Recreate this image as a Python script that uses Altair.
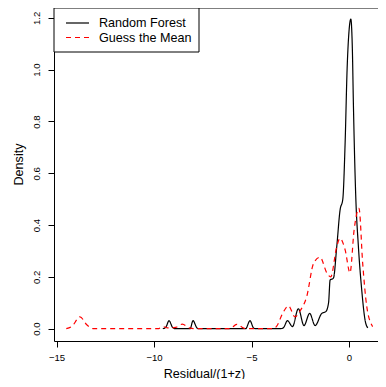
import altair as alt
import pandas as pd

# Random Forest density
rf_x = [-9.55, -9.4, -9.23, -9.05, -8.9, -8.15, -8.0, -7.8, -7.7, -5.3, -5.08, -4.9, -4.8,
        -3.5, -3.35, -3.16, -2.9, -2.6, -2.31, -2.02, -1.74, -1.4, -1.19, -1.05, -0.97,
        -0.8, -0.63, -0.46, -0.32, -0.2, -0.1, 0.0, 0.09, 0.17, 0.22, 0.34, 0.48, 0.65,
        0.82, 0.96]
rf_y = [0.0, 0.005, 0.031, 0.005, 0.0, 0.0, 0.031, 0.003, 0.0, 0.0, 0.031, 0.003, 0.0,
        0.0, 0.005, 0.031, 0.008, 0.077, 0.012, 0.059, 0.012, 0.059, 0.066, 0.1, 0.188,
        0.195, 0.317, 0.458, 0.5, 0.72, 1.0, 1.15, 1.195, 1.08, 0.88, 0.52, 0.317, 0.15,
        0.034, 0.003]

# Guess the Mean density
gm_x = [-14.5, -14.2, -13.8, -13.45, -13.1, -9.8, -9.55, -9.3, -8.9, -8.55, -8.2, -7.9,
        -6.1, -5.76, -5.4, -5.2, -3.9, -3.71, -3.4, -3.11, -2.77, -2.5, -2.17, -1.82,
        -1.49, -1.13, -0.94, -0.63, -0.46, -0.2, 0.05, 0.26, 0.51, 0.7, 0.91, 1.21]
gm_y = [0.0, 0.01, 0.046, 0.015, 0.0, 0.0, 0.008, 0.003, 0.005, 0.018, 0.003, 0.0,
        0.0, 0.017, 0.002, 0.0, 0.0, 0.01, 0.06, 0.088, 0.046, 0.07, 0.124, 0.252,
        0.276, 0.214, 0.2, 0.317, 0.349, 0.304, 0.216, 0.381, 0.465, 0.252, 0.085, 0.008]

series = ["Random Forest", "Guess the Mean"]
x_ticks = [-15, -10, -5, 0]
y_ticks = [0.0, 0.2, 0.4, 0.6, 0.8, 1.0, 1.2]

df = pd.concat([
    pd.DataFrame({"x": rf_x, "y": rf_y, "model": series[0], "order": range(len(rf_x))}),
    pd.DataFrame({"x": gm_x, "y": gm_y, "model": series[1], "order": range(len(gm_x))}),
])

W, H = 324, 333
FONT = "Liberation Sans"

lines = alt.Chart(df).mark_line(interpolate="monotone", strokeWidth=1.2).encode(
    x=alt.X("x:Q", scale=alt.Scale(domain=[-15.13, 1.485], nice=False, zero=False),
            axis=alt.Axis(values=x_ticks, format="d", title="Residual/(1+z)",
                          grid=False, tickSize=6, labelPadding=5,
                          labelFontSize=9.6, titleFontSize=12.6,
                          titleX=150, titleY=36, titleBaseline="alphabetic")),
    y=alt.Y("y:Q", scale=alt.Scale(domain=[-0.0475, 1.238], nice=False, zero=False),
            axis=alt.Axis(values=y_ticks, format=".1f", title="Density",
                          grid=False, tickSize=6, labelPadding=7,
                          labelAngle=270, labelAlign="center", labelBaseline="bottom",
                          labelFontSize=9.6, titleFontSize=12.6,
                          titleAngle=270, titleX=-32, titleY=156,
                          titleBaseline="alphabetic")),
    color=alt.Color("model:N", scale=alt.Scale(domain=series, range=["black", "#FF0000"]),
                    legend=None),
    strokeDash=alt.StrokeDash("model:N", scale=alt.Scale(domain=series, range=[[1, 0], [5, 4]]),
                              legend=None),
    order="order:Q",
)

one = pd.DataFrame({"a": [0]})
top_line = alt.Chart(one).mark_rule(color="black", strokeWidth=1).encode(
    x=alt.value(0), x2=alt.value(W), y=alt.value(0))

box = alt.Chart(one).mark_rect(fill="white", stroke="black", strokeWidth=1).encode(
    x=alt.value(0), x2=alt.value(145), y=alt.value(0), y2=alt.value(44))
leg1 = alt.Chart(one).mark_rule(color="black", strokeWidth=1.2).encode(
    x=alt.value(12), x2=alt.value(35), y=alt.value(15))
leg2 = alt.Chart(one).mark_rule(color="#FF0000", strokeWidth=1.2, strokeDash=[5, 4]).encode(
    x=alt.value(12), x2=alt.value(35), y=alt.value(29.5))
txt1 = alt.Chart(one).mark_text(align="left", baseline="middle", fontSize=12.6, font=FONT,
                                color="black").encode(
    x=alt.value(45), y=alt.value(15), text=alt.value(series[0]))
txt2 = alt.Chart(one).mark_text(align="left", baseline="middle", fontSize=12.6, font=FONT,
                                color="black").encode(
    x=alt.value(45), y=alt.value(29.5), text=alt.value(series[1]))

chart = alt.layer(lines, top_line, box, leg1, leg2, txt1, txt2).properties(
    width=W, height=H,
    autosize=alt.AutoSizeParams(type="none"),
    padding={"left": 46, "top": 0, "right": 0, "bottom": 38},
).configure_view(stroke=None).configure_axis(
    labelFont=FONT, titleFont=FONT, labelColor="black", titleColor="black",
    domainColor="black", tickColor="black", titleFontWeight="normal",
    domainWidth=1, tickWidth=1,
)

chart.save("out.html", embed_options={"renderer": "svg", "actions": False})
